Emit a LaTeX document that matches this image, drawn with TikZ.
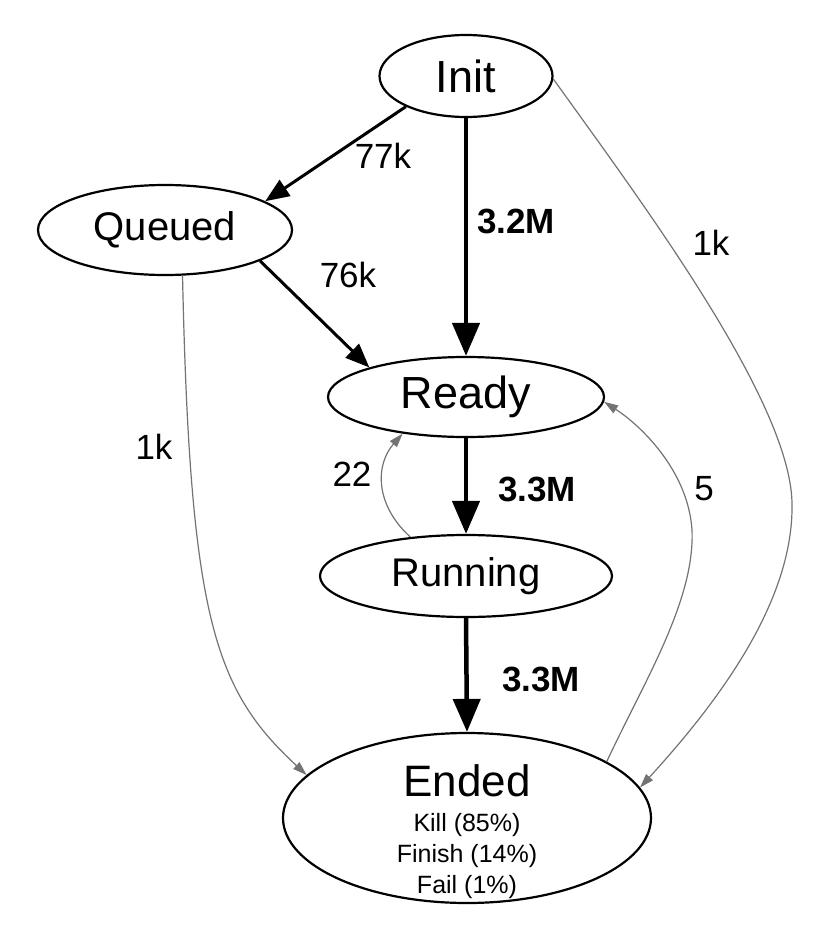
\documentclass[tikz,border=0pt]{standalone}
\usepackage{fontspec}
\setmainfont{Liberation Sans}
\usetikzlibrary{shapes.geometric,arrows.meta}
\tikzset{%
  state/.style={ellipse,draw,line width=2.2pt,inner sep=0pt},
  heavy/.style={line width=4.5pt,-{Triangle[length=33pt,width=27pt]}},
  medium/.style={line width=3pt,-{Triangle[length=24pt,width=19pt]}},
  faint/.style={draw=black!55,line width=1.2pt,-{Triangle[length=14pt,width=9pt,fill=black!55]}},
  lbl/.style={inner sep=0pt,font=\fontsize{35}{40}\selectfont},
  blbl/.style={inner sep=0pt,font=\bfseries\fontsize{35}{40}\selectfont}
}

\begin{document}
\begin{tikzpicture}[x=1pt,y=-1pt]
\useasboundingbox (0,0) rectangle (830,934);

% states
\node[state,minimum width=173,minimum height=82,font=\fontsize{45}{50}\selectfont] (init) at (466,76) {Init};
\node[state,minimum width=254,minimum height=90,font=\fontsize{40}{46}\selectfont] (queued) at (165,230) {Queued};
\node[state,minimum width=276,minimum height=80,font=\fontsize{45}{50}\selectfont] (ready) at (466,397) {Ready};
\node[state,minimum width=292,minimum height=82,font=\fontsize{40}{46}\selectfont] (running) at (466,576) {Running};
\node[state,minimum width=368,minimum height=170,font=\fontsize{25}{31}\selectfont] (ended) at (467,818)
  {\raisebox{-20pt}[0pt][0pt]{\parbox{220pt}{\centering{\fontsize{44}{44}\selectfont Ended\par}\vspace{4pt}Kill (85\%)\par Finish (14\%)\par Fail (1\%)}}};

% main flow
\draw[medium] (init.207) -- (queued.16) node[lbl] at (383,156) {77k};
\draw[heavy] (init.south) -- (ready.north) node[blbl] at (516,221) {3.2M};
\draw[medium] (queued.-18) -- (ready.163) node[lbl] at (348,275) {76k};
\draw[heavy] (ready.south) -- (running.north) node[blbl] at (537,489) {3.3M};
\draw[heavy] (running.south) -- (ended.north) node[blbl] at (541,679) {3.3M};

% rare transitions
\draw[faint] (queued.-69) .. controls (190,620) and (215,690) .. (ended.165)
  node[lbl] at (154,447) {1k};
\draw[faint] (init.-2) .. controls (640,200) and (790,400) .. (792,503)
  .. controls (794,600) and (720,700) .. (ended.10)
  node[lbl] at (711,243) {1k};
\draw[faint] (ended.22) .. controls (645,680) and (695,600) .. (692,530)
  .. controls (688,470) and (640,425) .. (ready.-2)
  node[lbl] at (704,489) {5};
\draw[faint] (running.145) .. controls (375,505) and (375,465) .. (ready.210)
  node[lbl] at (352,474) {22};
\end{tikzpicture}
\end{document}
